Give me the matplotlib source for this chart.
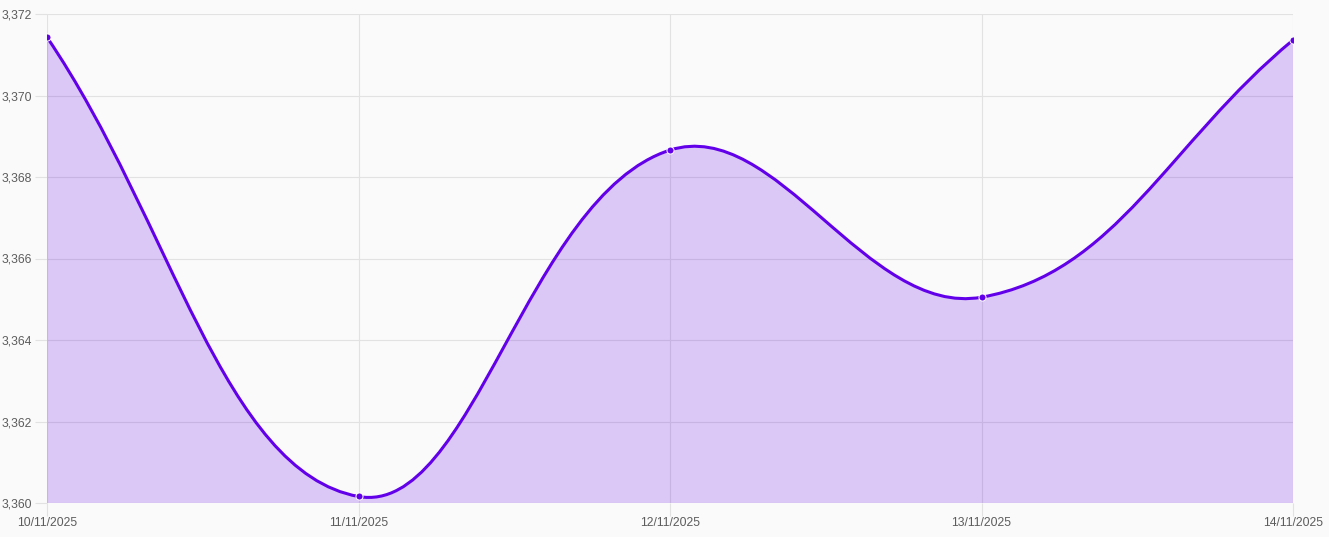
#=====================
# Imports
#=====================
import matplotlib
matplotlib.use('Agg')
import matplotlib.pyplot as plt
import numpy as np
from matplotlib.path import Path
from matplotlib.patches import PathPatch
from matplotlib.ticker import FuncFormatter

#=====================
# Data
#=====================
dates = ['10/11/2025', '11/11/2025', '12/11/2025', '13/11/2025', '14/11/2025']
values = [3371.43, 3360.16, 3368.66, 3365.05, 3371.36]
y_ticks = [3360, 3362, 3364, 3366, 3368, 3370, 3372]

line_color = '#6200EA'
fill_color = (98/255, 0, 234/255, 0.2)
grid_color = '#e2e2e2'
text_color = '#5c5c5c'
tension = 0.4

plt.rcParams['font.family'] = ['Liberation Sans', 'DejaVu Sans']

#=====================
# Figure
#=====================
fig = plt.figure(figsize=(13.29, 5.37), dpi=100, facecolor='#fafafa')
W, H = 1329, 537
ax = fig.add_axes([47 / W, 1 - 503 / H, (1293 - 47) / W, (503 - 14) / H])
ax.set_facecolor('#fafafa')

x = np.arange(len(dates))
ax.set_xlim(0, len(dates) - 1)
ax.set_ylim(y_ticks[0], y_ticks[-1])


# Chart.js style bezier control points, computed in pixel space
def spline_path(xs, ys):
    pts = ax.transData.transform(np.column_stack([xs, ys]))
    n = len(pts)
    verts = [pts[0]]
    codes = [Path.MOVETO]
    prev_ctrl = []
    next_ctrl = []
    for i in range(n):
        p0 = pts[i - 1] if i > 0 else pts[i]
        p1 = pts[i]
        p2 = pts[i + 1] if i < n - 1 else pts[i]
        d01 = np.hypot(*(p1 - p0))
        d12 = np.hypot(*(p2 - p1))
        tot = d01 + d12
        s01 = d01 / tot if tot else 0
        s12 = d12 / tot if tot else 0
        fa = tension * s01
        fb = tension * s12
        prev_ctrl.append(p1 - fa * (p2 - p0))
        next_ctrl.append(p1 + fb * (p2 - p0))
    for i in range(1, n):
        verts += [next_ctrl[i - 1], prev_ctrl[i], pts[i]]
        codes += [Path.CURVE4] * 3
    inv = ax.transData.inverted()
    return inv.transform(np.array(verts)), codes


verts, codes = spline_path(x, values)

# filled area under the curve
fill_verts = np.vstack([verts, [[x[-1], y_ticks[0]], [x[0], y_ticks[0]], verts[0]]])
fill_codes = codes + [Path.LINETO, Path.LINETO, Path.CLOSEPOLY]
ax.add_patch(PathPatch(Path(fill_verts, fill_codes), facecolor=fill_color,
                       edgecolor='none', zorder=2))
ax.add_patch(PathPatch(Path(verts, codes), facecolor='none', edgecolor=line_color,
                       linewidth=2.2, zorder=3, capstyle='round'))
ax.scatter(x, values, s=26, color=line_color, edgecolor='white', linewidth=0.7,
           zorder=4)

#=====================
# Axes styling
#=====================
ax.set_xticks(x)
ax.set_xticklabels(dates)
ax.set_yticks(y_ticks)
ax.yaxis.set_major_formatter(FuncFormatter(lambda v, p: f'{int(v):,}'))
ax.grid(True, color=grid_color, linewidth=0.8, zorder=0)
ax.set_axisbelow(True)
for s in ax.spines.values():
    s.set_visible(False)
ax.tick_params(axis='both', colors=grid_color, labelcolor=text_color,
               labelsize=8.7, length=9, width=0.8, pad=2)
ax.tick_params(axis='x', pad=1)

fig.savefig('out.png', dpi=100, facecolor=fig.get_facecolor())
